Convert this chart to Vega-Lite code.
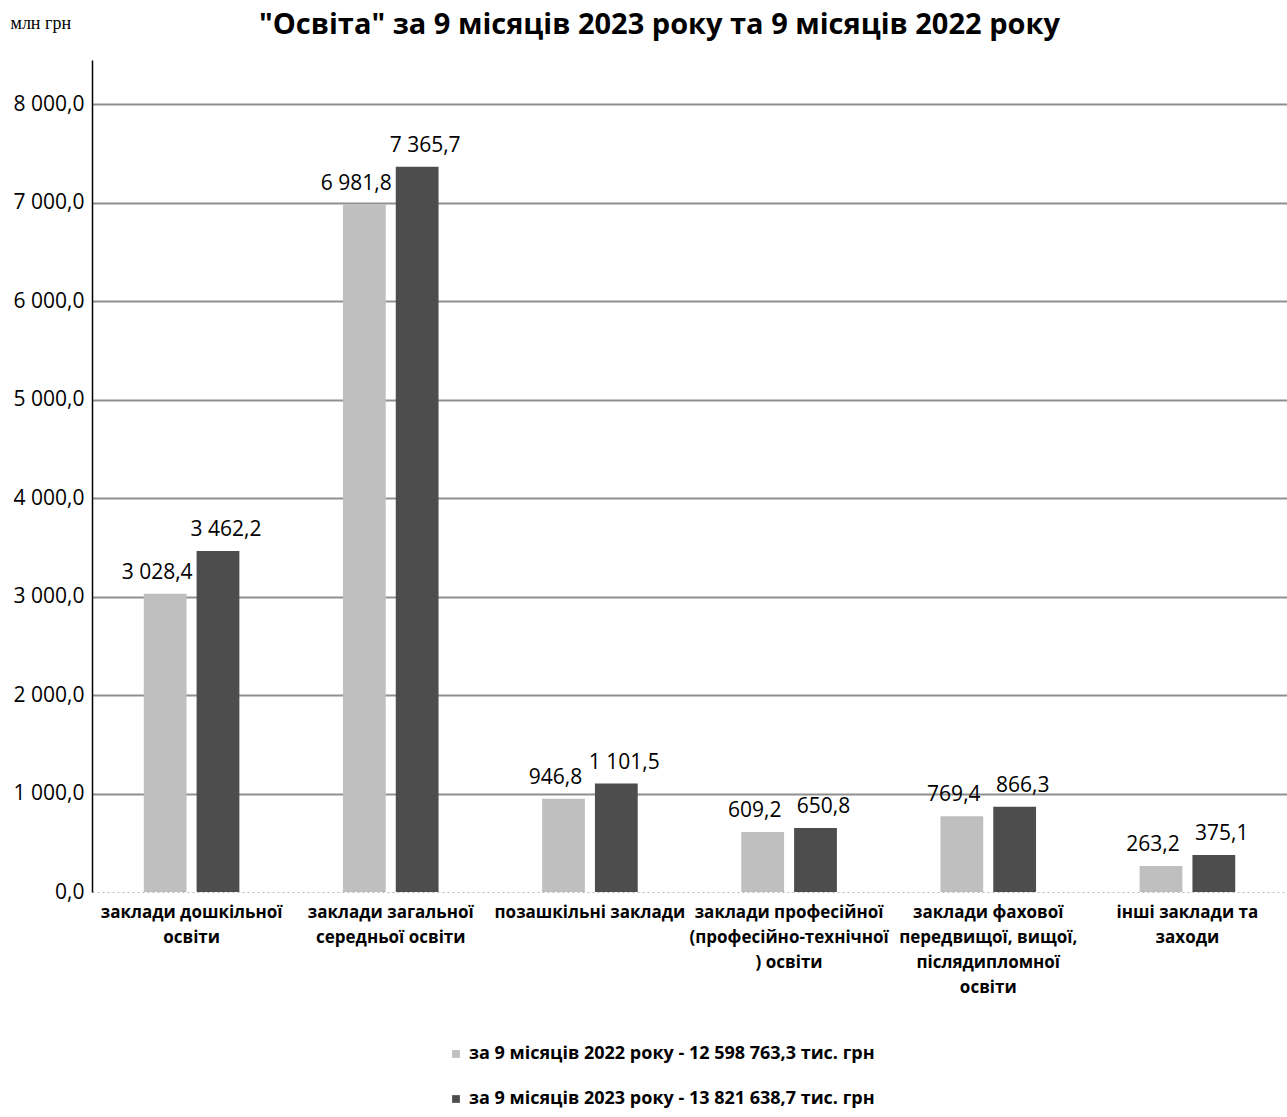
{
  "$schema": "https://vega.github.io/schema/vega-lite/v6.json",
  "autosize": {"type": "none"},
  "padding": {"left": 92, "top": 60, "right": 0, "bottom": 225},
  "width": 1195,
  "height": 832,
  "background": "white",
  "title": {
    "text": "\"Освіта\" за 9 місяців 2023 року та 9 місяців 2022 року",
    "font": "Open Sans",
    "fontSize": 29,
    "fontWeight": "bold",
    "color": "black",
    "anchor": "middle",
    "dx": -30,
    "offset": -26
  },
  "config": {
    "locale": {
      "number": {"decimal": ",", "thousands": " ", "grouping": [3], "currency": ["", ""]}
    },
    "view": {"stroke": null},
    "font": "Open Sans"
  },
  "data": {
    "values": [
      {"cat": "заклади дошкільної|освіти", "series": "за 9 місяців 2022 року - 12 598 763,3 тис. грн", "value": 3028.4},
      {"cat": "заклади дошкільної|освіти", "series": "за 9 місяців 2023 року - 13 821 638,7 тис. грн", "value": 3462.2},
      {"cat": "заклади загальної|середньої освіти", "series": "за 9 місяців 2022 року - 12 598 763,3 тис. грн", "value": 6981.8},
      {"cat": "заклади загальної|середньої освіти", "series": "за 9 місяців 2023 року - 13 821 638,7 тис. грн", "value": 7365.7},
      {"cat": "позашкільні заклади", "series": "за 9 місяців 2022 року - 12 598 763,3 тис. грн", "value": 946.8},
      {"cat": "позашкільні заклади", "series": "за 9 місяців 2023 року - 13 821 638,7 тис. грн", "value": 1101.5},
      {"cat": "заклади професійної|(професійно-технічної|) освіти", "series": "за 9 місяців 2022 року - 12 598 763,3 тис. грн", "value": 609.2},
      {"cat": "заклади професійної|(професійно-технічної|) освіти", "series": "за 9 місяців 2023 року - 13 821 638,7 тис. грн", "value": 650.8},
      {"cat": "заклади фахової|передвищої, вищої,|післядипломної|освіти", "series": "за 9 місяців 2022 року - 12 598 763,3 тис. грн", "value": 769.4},
      {"cat": "заклади фахової|передвищої, вищої,|післядипломної|освіти", "series": "за 9 місяців 2023 року - 13 821 638,7 тис. грн", "value": 866.3},
      {"cat": "інші заклади та|заходи", "series": "за 9 місяців 2022 року - 12 598 763,3 тис. грн", "value": 263.2},
      {"cat": "інші заклади та|заходи", "series": "за 9 місяців 2023 року - 13 821 638,7 тис. грн", "value": 375.1}
    ]
  },
  "encoding": {
    "x": {
      "field": "cat",
      "type": "nominal",
      "sort": null,
      "scale": {"paddingInner": 0.52, "paddingOuter": 0.26},
      "axis": {
        "title": null,
        "labelAngle": 0,
        "labelExpr": "split(datum.label, '|')",
        "labelFont": "Open Sans",
        "labelFontSize": 17,
        "labelFontWeight": "bold",
        "labelColor": "black",
        "labelLimit": 0,
        "labelOverlap": false,
        "labelLineHeight": 25,
        "labelPadding": 12,
        "labelBaseline": "top",
        "ticks": false,
        "domain": true,
        "domainColor": "#bbbbbb",
        "domainDash": [2, 3],
        "domainWidth": 1
      }
    },
    "xOffset": {"field": "series", "type": "nominal", "scale": {"paddingInner": 0.19}},
    "y": {
      "field": "value",
      "type": "quantitative",
      "scale": {"domain": [0, 8450], "nice": false},
      "axis": {
        "title": "млн грн",
        "titleAngle": 0,
        "titleFont": "Liberation Serif",
        "titleFontSize": 18,
        "titleFontWeight": "normal",
        "titleColor": "black",
        "titleAlign": "left",
        "titleBaseline": "alphabetic",
        "titleX": -82,
        "titleY": -32,
        "values": [0, 1000, 2000, 3000, 4000, 5000, 6000, 7000, 8000],
        "format": ",.1f",
        "labelFont": "Open Sans",
        "labelFontSize": 21,
        "labelColor": "black",
        "labelPadding": 8,
        "ticks": false,
        "domain": true,
        "domainColor": "black",
        "domainWidth": 1.5,
        "grid": true,
        "gridColor": {"condition": {"test": "datum.value === 0", "value": "transparent"}, "value": "#8f8f8f"},
        "gridWidth": 2
      }
    }
  },
  "layer": [
    {
      "mark": {"type": "bar"},
      "encoding": {
        "color": {
          "field": "series",
          "type": "nominal",
          "scale": {"range": ["#bfbfbf", "#4d4d4d"]},
          "legend": {
            "title": null,
            "orient": "none",
            "legendX": 355,
            "legendY": 985,
            "direction": "vertical",
            "symbolType": "square",
            "symbolSize": 60,
            "labelFont": "Open Sans",
            "labelFontSize": 18,
            "labelFontWeight": "bold",
            "labelColor": "black",
            "labelLimit": 0,
            "rowPadding": 27
          }
        }
      }
    },
    {
      "transform": [{"filter": "indexof(datum.series, '2022') >= 0"}],
      "mark": {"type": "text", "baseline": "bottom", "dx": -8, "dy": -11, "fontSize": 21, "font": "Open Sans", "color": "black"},
      "encoding": {
        "text": {"field": "value", "type": "quantitative", "format": ",.1f"}
      }
    },
    {
      "transform": [{"filter": "indexof(datum.series, '2023') >= 0"}],
      "mark": {"type": "text", "baseline": "bottom", "dx": 8, "dy": -11, "fontSize": 21, "font": "Open Sans", "color": "black"},
      "encoding": {
        "text": {"field": "value", "type": "quantitative", "format": ",.1f"}
      }
    }
  ]
}
